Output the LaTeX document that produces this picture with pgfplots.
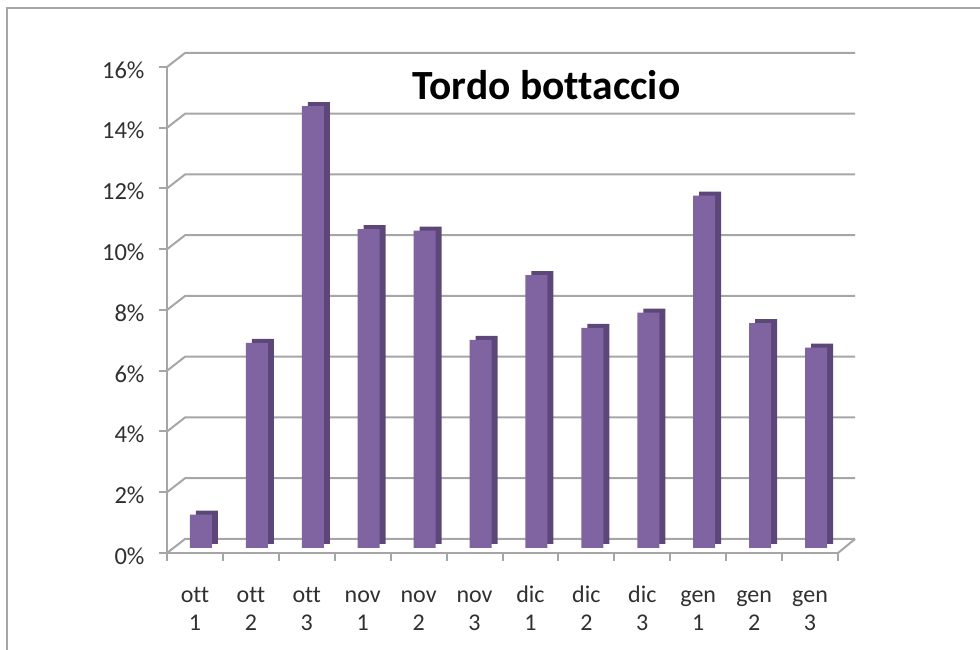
\documentclass[border=0pt]{standalone}
\usepackage{pgfplots}
\pgfplotsset{compat=1.18}
\usepackage{fontspec}
\setmainfont{Carlito}[Ligatures={NoCommon}]
\definecolor{barfront}{HTML}{8064A2}
\definecolor{barside}{HTML}{5C4778}
\definecolor{gridc}{HTML}{A6A6A6}
\definecolor{txt}{HTML}{303030}
\begin{document}
\begin{tikzpicture}
\useasboundingbox (-167pt,-97pt) rectangle (813pt,553pt);
\draw[gridc, line width=2pt] (-159.5pt,-97pt) -- (-159.5pt,545pt) -- (813pt,545pt);
\begin{axis}[
  at={(0pt,0pt)}, anchor=south west,
  scale only axis, width=671pt, height=486pt,
  xmin=0, xmax=12, ymin=0, ymax=16,
  axis lines=left,
  axis line style={gridc, line width=2pt, -},
  clip=false,
  xtick={0,1,...,12},
  xticklabels={{\strut ott\\\strut 1},{\strut ott\\\strut 2},{\strut ott\\\strut 3},{\strut nov\\\strut 1},{\strut nov\\\strut 2},{\strut nov\\\strut 3},{\strut dic\\\strut 1},{\strut dic\\\strut 2},{\strut dic\\\strut 3},{\strut gen\\\strut 1},{\strut gen\\\strut 2},{\strut gen\\\strut 3}},
  x tick label as interval,
  xticklabel style={align=center, font=\fontsize{24}{28}\selectfont, text=txt, yshift=-18pt},
  ytick={0,2,...,16},
  yticklabel={\pgfmathprintnumber{\tick}\%},
  yticklabel style={font=\fontsize{24.5}{28}\selectfont, text=txt, xshift=-11pt, yshift=-3pt},
  /pgf/number format/assume math mode=true,
  tick style={gridc, line width=2pt},
  tick align=outside,
  major tick length=8pt,
]
\pgfplotsinvokeforeach{0,2,...,16}{
  \draw[gridc, line width=2pt] (axis cs:0,#1) -- ([xshift=18pt,yshift=14pt]axis cs:0,#1) -- ([xshift=17pt,yshift=14pt]axis cs:12,#1);
}
\draw[gridc, line width=2pt] (axis cs:12,0) -- ([xshift=17pt,yshift=14pt]axis cs:12,0);
\addplot[ybar, bar width=22pt, bar shift=12pt, yshift=9pt, fill=barside, draw=none] coordinates {
  (0.5,1.1) (1.5,6.75) (2.5,14.55) (3.5,10.5) (4.5,10.45) (5.5,6.85)
  (6.5,8.98) (7.5,7.25) (8.5,7.75) (9.5,11.6) (10.5,7.4) (11.5,6.6)
};
\addplot[ybar, bar width=22pt, bar shift=6pt, yshift=5pt, fill=barfront, draw=none] coordinates {
  (0.5,1.1) (1.5,6.75) (2.5,14.55) (3.5,10.5) (4.5,10.45) (5.5,6.85)
  (6.5,8.98) (7.5,7.25) (8.5,7.75) (9.5,11.6) (10.5,7.4) (11.5,6.6)
};
\end{axis}
\node[anchor=base, font=\bfseries\fontsize{41.5}{48}\selectfont, text=black] at (379.5pt,453pt) {Tordo bottaccio};
\end{tikzpicture}
\end{document}
